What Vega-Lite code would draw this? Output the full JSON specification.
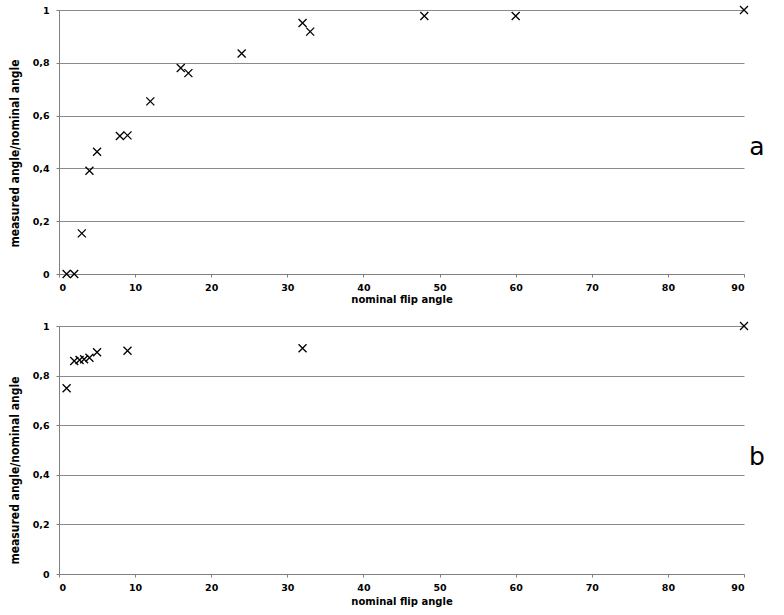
{
  "$schema": "https://vega.github.io/schema/vega-lite/v6.json",
  "background": "white",
  "padding": {"left": 8, "top": 3, "right": 5, "bottom": 5},
  "spacing": 14,
  "datasets": {
    "a": [
      {"angle": 1, "ratio": 0.0},
      {"angle": 2, "ratio": 0.0},
      {"angle": 3, "ratio": 0.154},
      {"angle": 4, "ratio": 0.391},
      {"angle": 5, "ratio": 0.463},
      {"angle": 8, "ratio": 0.523},
      {"angle": 9, "ratio": 0.525},
      {"angle": 12, "ratio": 0.654},
      {"angle": 16, "ratio": 0.78},
      {"angle": 17, "ratio": 0.761},
      {"angle": 24, "ratio": 0.835},
      {"angle": 32, "ratio": 0.951},
      {"angle": 33, "ratio": 0.918},
      {"angle": 48, "ratio": 0.977},
      {"angle": 60, "ratio": 0.977},
      {"angle": 90, "ratio": 1.0}
    ],
    "b": [
      {"angle": 1, "ratio": 0.749},
      {"angle": 2, "ratio": 0.859},
      {"angle": 2.7, "ratio": 0.863},
      {"angle": 3.3, "ratio": 0.866},
      {"angle": 4, "ratio": 0.872},
      {"angle": 5, "ratio": 0.894},
      {"angle": 9, "ratio": 0.9},
      {"angle": 32, "ratio": 0.91},
      {"angle": 90, "ratio": 1.0}
    ],
    "labA": [{"angle": 91.7, "ratio": 0.482, "label": "a"}],
    "labB": [{"angle": 91.7, "ratio": 0.473, "label": "b"}]
  },
  "config": {
    "view": {"stroke": null},
    "axis": {
      "labelFont": "DejaVu Sans",
      "labelFontWeight": "bold",
      "labelFontSize": 9.5,
      "labelColor": "#000000",
      "domainColor": "#808080",
      "tickColor": "#808080",
      "tickSize": 3,
      "gridColor": "#8a8a8a",
      "gridWidth": 1,
      "titleColor": "#000000"
    }
  },
  "vconcat": [
    {
      "width": 685,
      "height": 264,
      "layer": [
        {
          "data": {"name": "a"},
          "mark": {"type": "point", "shape": "M-1,-1L1,1M-1,1L1,-1", "filled": false, "stroke": "#000000", "strokeWidth": 1.3, "size": 64, "opacity": 1},
          "encoding": {
            "x": {"field": "angle", "type": "quantitative", "scale": {"domain": [0, 90], "nice": false},
              "axis": {"values": [0,10,20,30,40,50,60,70,80,90], "grid": false, "title": "nominal flip angle", "titleFont": "DejaVu Sans", "titleFontWeight": "bold", "titleFontSize": 10, "labelPadding": 5, "titlePadding": 3}},
            "y": {"field": "ratio", "type": "quantitative", "scale": {"domain": [0, 1], "nice": false},
              "axis": {"values": [0,0.2,0.4,0.6,0.8,1], "labelExpr": "replace(format(datum.value, '.1~f'), '.', ',')", "grid": true, "labelPadding": 7, "title": "measured angle/nominal angle", "titleFont": "Liberation Sans Narrow, DejaVu Sans Condensed", "titleFontWeight": "bold", "titleFontSize": 12, "titleX": -38, "titleY": 143}}
          }
        },
        {
          "data": {"name": "labA"},
          "mark": {"type": "text", "font": "DejaVu Sans", "fontSize": 25, "baseline": "middle", "align": "center", "color": "#000000"},
          "encoding": {
            "x": {"field": "angle", "type": "quantitative"},
            "y": {"field": "ratio", "type": "quantitative"},
            "text": {"field": "label"}
          }
        }
      ]
    },
    {
      "width": 685,
      "height": 248,
      "layer": [
        {
          "data": {"name": "b"},
          "mark": {"type": "point", "shape": "M-1,-1L1,1M-1,1L1,-1", "filled": false, "stroke": "#000000", "strokeWidth": 1.3, "size": 64, "opacity": 1},
          "encoding": {
            "x": {"field": "angle", "type": "quantitative", "scale": {"domain": [0, 90], "nice": false},
              "axis": {"values": [0,10,20,30,40,50,60,70,80,90], "grid": false, "title": "nominal flip angle", "titleFont": "DejaVu Sans", "titleFontWeight": "bold", "titleFontSize": 10, "labelPadding": 5, "titlePadding": 5}},
            "y": {"field": "ratio", "type": "quantitative", "scale": {"domain": [0, 1], "nice": false},
              "axis": {"values": [0,0.2,0.4,0.6,0.8,1], "labelExpr": "replace(format(datum.value, '.1~f'), '.', ',')", "grid": true, "labelPadding": 7, "title": "measured angle/nominal angle", "titleFont": "Liberation Sans Narrow, DejaVu Sans Condensed", "titleFontWeight": "bold", "titleFontSize": 12, "titleX": -38, "titleY": 144}}
          }
        },
        {
          "data": {"name": "labB"},
          "mark": {"type": "text", "font": "DejaVu Sans", "fontSize": 25, "baseline": "middle", "align": "center", "color": "#000000"},
          "encoding": {
            "x": {"field": "angle", "type": "quantitative"},
            "y": {"field": "ratio", "type": "quantitative"},
            "text": {"field": "label"}
          }
        }
      ]
    }
  ]
}
